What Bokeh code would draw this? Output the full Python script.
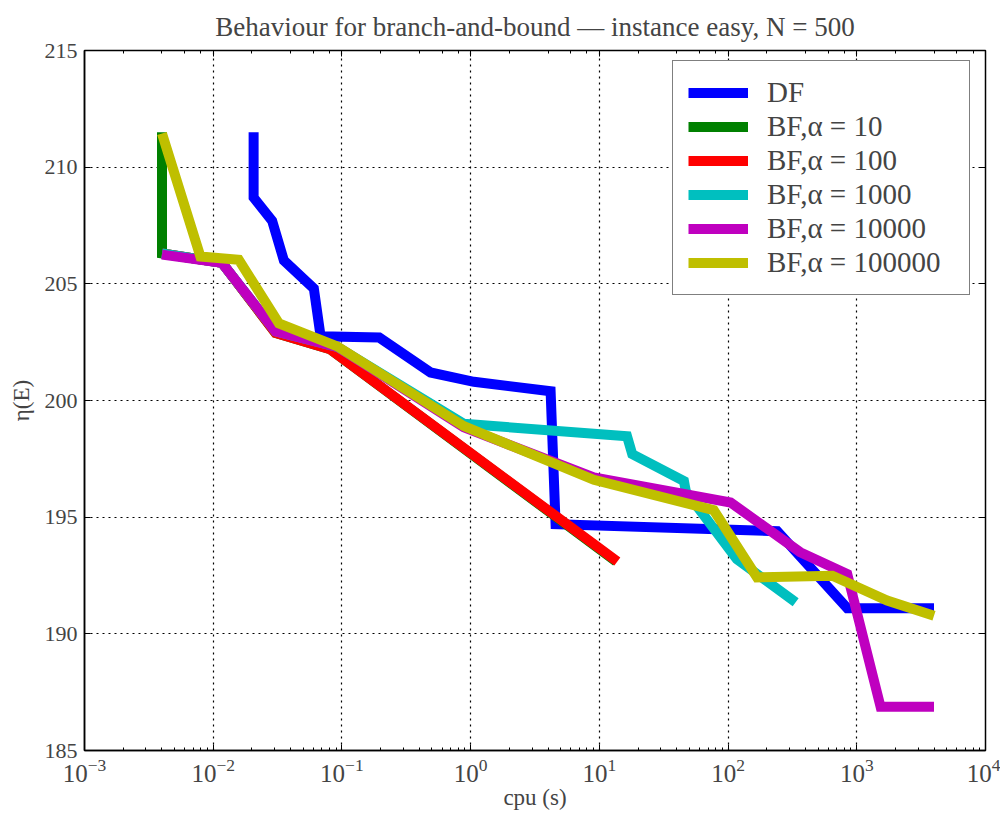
from bokeh.plotting import figure
from bokeh.models import (LogAxis, LinearAxis, FixedTicker, Legend, LegendItem,
                          LogTicker, Range1d)
from bokeh.embed import file_html
from bokeh.resources import INLINE

# ---- data ----
df_x = [0.0206, 0.0206, 0.0287, 0.0354, 0.0605, 0.0683, 0.195, 0.488, 1.06, 4.18, 4.57, 241, 843, 3980]
df_y = [211.5, 208.7, 207.7, 206.0, 204.8, 202.75, 202.7, 201.2, 200.8, 200.4, 194.7, 194.4, 191.1, 191.1]

bf10_x = [0.004, 0.004, 0.0117, 0.0305, 0.081, 13.5]
bf10_y = [211.5, 206.3, 205.9, 202.9, 202.2, 193.1]

bf100_x = [0.004, 0.0117, 0.0305, 0.081, 13.8]
bf100_y = [206.3, 205.9, 202.9, 202.2, 193.1]

bf1000_x = [0.004, 0.0117, 0.0305, 0.092, 0.885, 16.4, 18.0, 45.4, 47.0, 117, 335]
bf1000_y = [206.3, 205.9, 202.96, 202.3, 199.0, 198.47, 197.7, 196.55, 196.1, 193.2, 191.35]

bf10000_x = [0.004, 0.0117, 0.0305, 0.092, 0.885, 9.06, 104.6, 363, 843, 1531, 3980]
bf10000_y = [206.25, 205.9, 202.96, 202.3, 198.85, 196.7, 195.63, 193.5, 192.56, 186.87, 186.87]

bf100000_x = [0.004, 0.00795, 0.0158, 0.0324, 0.092, 0.885, 9.06, 77.4, 168, 646, 1722, 3980]
bf100000_y = [211.44, 206.17, 206.03, 203.3, 202.32, 198.9, 196.6, 195.3, 192.42, 192.49, 191.43, 190.78]

series_names = ["DF", "BF,\u03b1 = 10", "BF,\u03b1 = 100", "BF,\u03b1 = 1000",
                "BF,\u03b1 = 10000", "BF,\u03b1 = 100000"]
series_colors = ["#0000ff", "#008000", "#ff0000", "#00bfbf", "#bf00bf", "#bfbf00"]
y_ticks = [185, 190, 195, 200, 205, 210, 215]

title_text = "Behaviour for branch-and-bound \u2014 instance easy, N = 500"
x_label = "cpu (s)"
y_label = "\u03b7(E)"

FONT = "Liberation Serif"

p = figure(width=1000, height=812, x_axis_type="log",
           x_range=Range1d(1e-3, 1e4), y_range=Range1d(185, 215),
           output_backend="svg", toolbar_location=None,
           min_border_left=84, min_border_right=15, min_border_top=50,
           min_border_bottom=60)

p.title.text = title_text
p.title.align = "center"
p.title.text_font = FONT
p.title.text_font_size = "27px"
p.title.text_font_style = "normal"
p.title.standoff = 18

p.outline_line_color = "black"
p.outline_line_width = 1.5
p.background_fill_color = "white"
p.border_fill_color = "white"

xs = [df_x, bf10_x, bf100_x, bf1000_x, bf10000_x, bf100000_x]
ys = [df_y, bf10_y, bf100_y, bf1000_y, bf10000_y, bf100000_y]
items = []
for x, y, name, c in zip(xs, ys, series_names, series_colors):
    r = p.line(x, y, line_color=c, line_width=10, line_join="miter", line_cap="butt")
    items.append(LegendItem(label=name, renderers=[r]))

# axes styling
for ax in [p.xaxis[0], p.yaxis[0]]:
    ax.major_tick_in = 6
    ax.major_tick_out = 0
    ax.minor_tick_in = 3
    ax.minor_tick_out = 0
    ax.axis_line_color = "black"
    ax.axis_line_width = 1.5
    ax.major_label_text_font = FONT
    ax.major_label_text_font_size = "22px"
    ax.axis_label_text_font = FONT
    ax.axis_label_text_font_size = "23px"
    ax.axis_label_text_font_style = "normal"

p.xaxis[0].major_label_text_font_size = "25px"
p.yaxis[0].ticker = FixedTicker(ticks=y_ticks)
p.yaxis[0].minor_tick_in = 0
p.yaxis[0].major_label_standoff = 7
p.xaxis[0].major_label_standoff = 8
p.xaxis[0].axis_label = x_label
p.yaxis[0].axis_label = y_label
p.xaxis[0].axis_label_standoff = 0
p.yaxis[0].axis_label_standoff = 8

top = LogAxis(ticker=LogTicker(), major_label_text_font_size="2px",
              major_label_text_alpha=0,
              major_tick_in=6, major_tick_out=0, minor_tick_in=3, minor_tick_out=0,
              axis_line_color=None, major_label_standoff=0)
right = LinearAxis(ticker=FixedTicker(ticks=y_ticks), major_label_text_font_size="2px",
                   major_label_text_alpha=0,
                   major_tick_in=6, major_tick_out=0, minor_tick_in=0, minor_tick_out=0,
                   axis_line_color=None, major_label_standoff=0)
p.add_layout(top, "above")
p.add_layout(right, "right")

p.grid.grid_line_color = "black"
p.grid.grid_line_dash = "2 4"
p.grid.grid_line_width = 1.2
p.ygrid.ticker = FixedTicker(ticks=y_ticks)

legend = Legend(items=items, location=(588, 455))
legend.label_text_font = FONT
legend.label_text_font_size = "29px"
legend.glyph_width = 60
legend.glyph_height = 33
legend.label_height = 33
legend.label_width = 187
legend.spacing = 1
legend.padding = 15
legend.label_standoff = 19
legend.border_line_color = "black"
legend.border_line_width = 1.5
legend.background_fill_alpha = 1.0
legend.margin = 0
p.add_layout(legend, "center")

open("out.html", "w").write(file_html(p, INLINE))
